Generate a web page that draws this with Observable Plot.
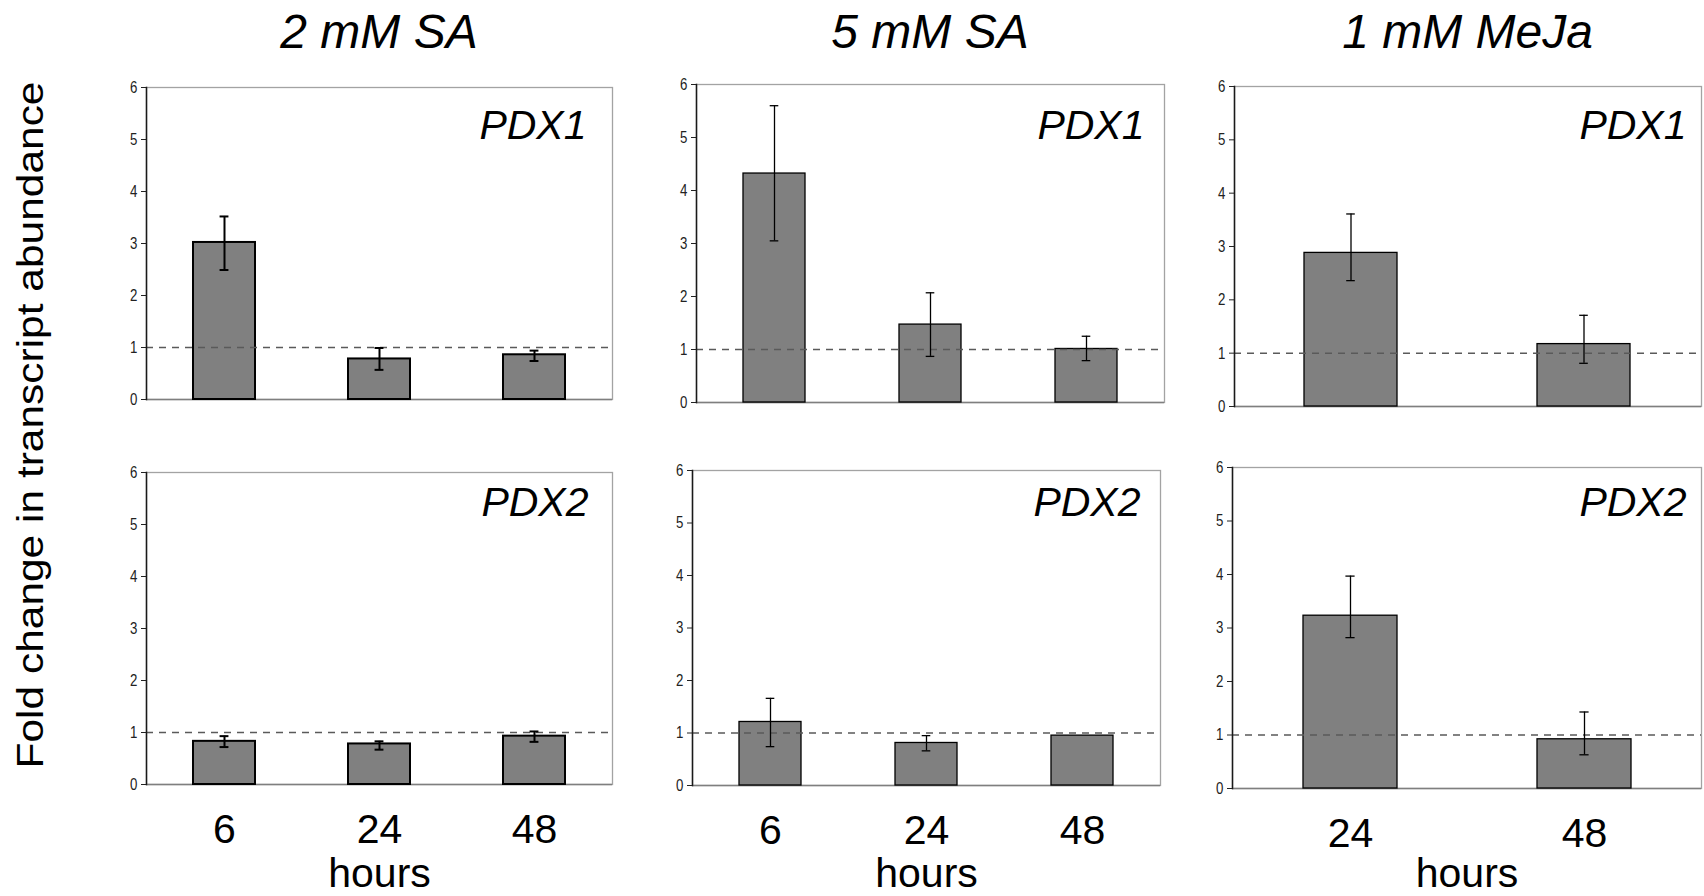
<!DOCTYPE html>
<html>
<head>
<meta charset="utf-8">
<script src="https://cdn.jsdelivr.net/npm/d3@7"></script>
<script src="https://cdn.jsdelivr.net/npm/@observablehq/plot@0.6"></script>
<style>
  html, body { margin: 0; padding: 0; background: #fff; }
  #fig { position: relative; width: 1704px; height: 896px; overflow: hidden; background: #fff; }
  .panel { position: absolute; }
  .panel svg { overflow: visible; background: transparent; }
  #overlay { position: absolute; left: 0; top: 0; pointer-events: none; }
</style>
</head>
<body>
<div id="fig"></div>
<script>
// Treatments (columns) and genes (rows)
const treatments = ["2 mM SA", "5 mM SA", "1 mM MeJa"];
const genes = ["PDX1", "PDX2"];
const yTicks = [0, 1, 2, 3, 4, 5, 6];
const baseline = [1];

// Sampling times (hours)
const hoursSA = ["6", "24", "48"];
const hoursMeJa = ["24", "48"];

// Fold change (mean) with error-bar bounds, PDX1
const pdx1SA2Mean = [3.02, 0.78, 0.86];
const pdx1SA2Lo   = [2.49, 0.57, 0.74];
const pdx1SA2Hi   = [3.52, 0.99, 0.94];

const pdx1SA5Mean = [4.32, 1.47, 1.01];
const pdx1SA5Lo   = [3.05, 0.87, 0.79];
const pdx1SA5Hi   = [5.60, 2.07, 1.25];

const pdx1MeJaMean = [2.88, 1.17];
const pdx1MeJaLo   = [2.36, 0.81];
const pdx1MeJaHi   = [3.61, 1.71];

// Fold change (mean) with error-bar bounds, PDX2
const pdx2SA2Mean = [0.83, 0.78, 0.93];
const pdx2SA2Lo   = [0.72, 0.67, 0.82];
const pdx2SA2Hi   = [0.93, 0.83, 1.02];

const pdx2SA5Mean = [1.21, 0.81, 0.95];
const pdx2SA5Lo   = [0.74, 0.66, null];
const pdx2SA5Hi   = [1.66, 0.95, null];

const pdx2MeJaMean = [3.23, 0.92];
const pdx2MeJaLo   = [2.82, 0.63];
const pdx2MeJaHi   = [3.97, 1.43];

const W = 1704, H = 896;
const sans = "'Liberation Sans', Arial, Helvetica, sans-serif";

// Panel frames (inner plotting area, page pixels) and per-panel styling
const panels = [
  {col: 0, row: 0, hours: hoursSA,   mean: pdx1SA2Mean,  lo: pdx1SA2Lo,  hi: pdx1SA2Hi,  l: 146,  t: 87,  r: 612,  b: 399, sw: 2.0, lab: [26, 51]},
  {col: 1, row: 0, hours: hoursSA,   mean: pdx1SA5Mean,  lo: pdx1SA5Lo,  hi: pdx1SA5Hi,  l: 696,  t: 84,  r: 1164, b: 402, sw: 1.3, lab: [20, 54]},
  {col: 2, row: 0, hours: hoursMeJa, mean: pdx1MeJaMean, lo: pdx1MeJaLo, hi: pdx1MeJaHi, l: 1234, t: 86,  r: 1701, b: 406, sw: 1.3, lab: [15, 52]},
  {col: 0, row: 1, hours: hoursSA,   mean: pdx2SA2Mean,  lo: pdx2SA2Lo,  hi: pdx2SA2Hi,  l: 146,  t: 472, r: 612,  b: 784, sw: 2.0, lab: [24, 43]},
  {col: 1, row: 1, hours: hoursSA,   mean: pdx2SA5Mean,  lo: pdx2SA5Lo,  hi: pdx2SA5Hi,  l: 692,  t: 470, r: 1160, b: 785, sw: 1.3, lab: [20, 45]},
  {col: 2, row: 1, hours: hoursMeJa, mean: pdx2MeJaMean, lo: pdx2MeJaLo, hi: pdx2MeJaHi, l: 1232, t: 467, r: 1701, b: 788, sw: 1.3, lab: [15, 48]}
];

const fig = document.getElementById("fig");

for (const p of panels) {
  const rows = p.hours.map((h, i) => ({hour: h, mean: p.mean[i], lo: p.lo[i], hi: p.hi[i]}));
  const withErr = rows.filter(d => d.lo != null && d.hi != null);
  const isBottom = p.row === 1;
  const mL = 50, mR = 3, mT = 12, mB = isBottom ? H - p.b : 12;
  const iw = p.r - p.l, ih = p.b - p.t;
  const bw = iw / p.hours.length * 0.4;
  const capInset = (bw - 9) / 2;

  const marks = [
    Plot.frame({stroke: "#a3a3a3", strokeWidth: 1.3}),
    Plot.ruleY([0], {stroke: "#7f7f7f", strokeWidth: 1.6}),
    Plot.barY(rows, {x: "hour", y: "mean", fill: "#808080", stroke: "#000", strokeWidth: p.sw}),
    Plot.ruleY(baseline, {stroke: "#5a5a5a", strokeWidth: 1.5, strokeDasharray: "7,6"}),
    Plot.ruleX(withErr, {x: "hour", y1: "lo", y2: "hi", stroke: "#000", strokeWidth: p.sw}),
    Plot.tickY(withErr, {x: "hour", y: "hi", inset: capInset, stroke: "#000", strokeWidth: p.sw}),
    Plot.tickY(withErr, {x: "hour", y: "lo", inset: capInset, stroke: "#000", strokeWidth: p.sw}),
    Plot.frame({anchor: "left", stroke: "#1a1a1a", strokeWidth: 1.5}),
    Plot.axisY({ticks: yTicks, tickFormat: "d", tickSize: 5, tickPadding: 4, fontSize: 17,
                stroke: "#222", fill: "#222", label: null}),
    Plot.text([genes[p.row]], {text: d => d, frameAnchor: "top-right", textAnchor: "end", lineAnchor: "bottom",
                dx: -p.lab[0], dy: p.lab[1], fontSize: 41, fontStyle: "italic", fontFamily: sans, fill: "#000"})
  ];
  if (isBottom) {
    marks.push(Plot.axisX({tickSize: 0, tickPadding: 29, fontSize: 41, fontFamily: sans, fill: "#000",
                           label: "hours", labelAnchor: "center", labelOffset: 886 - p.b}));
  }

  const chart = Plot.plot({
    width: iw + mL + mR,
    height: ih + mT + mB,
    marginLeft: mL, marginRight: mR, marginTop: mT, marginBottom: mB,
    style: {fontFamily: sans, background: "transparent", overflow: "visible"},
    x: isBottom
      ? {domain: p.hours, paddingInner: 0.6, paddingOuter: 0.3}
      : {domain: p.hours, paddingInner: 0.6, paddingOuter: 0.3, axis: null},
    y: {domain: [0, 6]},
    marks
  });

  // Condensed look for the small y tick labels
  d3.select(chart).selectAll('g[aria-label="y-axis tick label"] text')
    .attr("transform", function () {
      const t = this.getAttribute("transform") || "";
      return t + " scale(0.78,1)";
    });

  const div = document.createElement("div");
  div.className = "panel";
  div.style.left = (p.l - mL) + "px";
  div.style.top = (p.t - mT) + "px";
  div.style.width = (iw + mL + mR) + "px";
  div.appendChild(chart);
  fig.appendChild(div);
}

// Column titles and shared y-axis title
const overlay = d3.create("svg")
  .attr("id", "overlay")
  .attr("width", W)
  .attr("height", H);

const colCenters = [0, 1, 2].map(c => {
  const p = panels.find(q => q.col === c && q.row === 0);
  return (p.l + p.r) / 2;
});

overlay.selectAll("text.treat")
  .data(treatments)
  .join("text")
  .attr("class", "treat")
  .attr("x", (d, i) => colCenters[i])
  .attr("y", 48)
  .attr("text-anchor", "middle")
  .attr("font-family", sans)
  .attr("font-style", "italic")
  .attr("font-size", 48)
  .attr("fill", "#000")
  .text(d => d);

overlay.append("text")
  .attr("transform", "translate(43,425) rotate(-90)")
  .attr("text-anchor", "middle")
  .attr("font-family", sans)
  .attr("font-size", 36)
  .attr("textLength", 687)
  .attr("lengthAdjust", "spacingAndGlyphs")
  .attr("fill", "#000")
  .text("Fold change in transcript abundance");

fig.appendChild(overlay.node());
</script>
</body>
</html>
